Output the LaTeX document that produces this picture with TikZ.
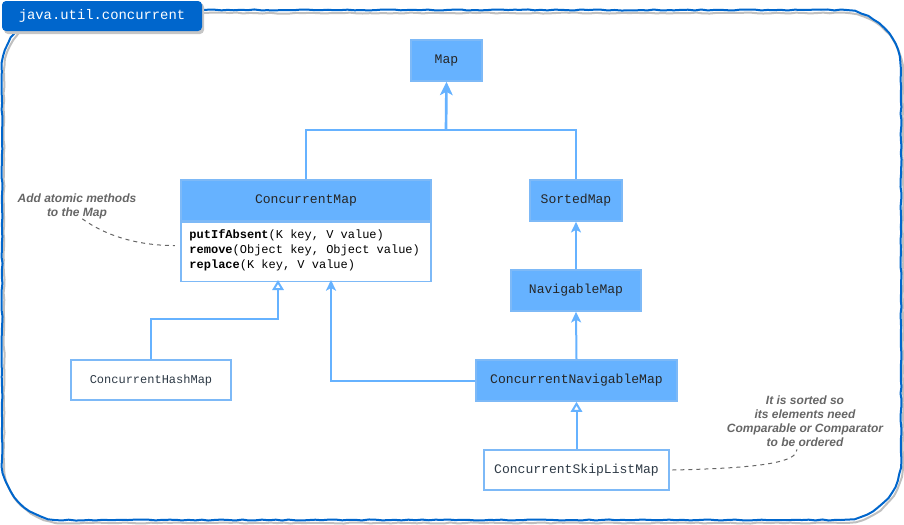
\documentclass[tikz,border=0pt]{standalone}
\usepackage{fontspec}
\setmainfont{Liberation Sans}
\setmonofont{Liberation Mono}
\usepackage{tikz}
\usetikzlibrary{
  arrows.meta,
  decorations.pathmorphing,
  calc,
  positioning
}
\definecolor{pkgblue}{HTML}{0066CC}
\definecolor{ifblue}{HTML}{66B2FF}
\definecolor{lineblue}{HTML}{7DB9F7}
\definecolor{notegray}{HTML}{666666}
\definecolor{clstext}{HTML}{2E3A46}
\tikzset{
  sk/.style={
    line width=1.5pt,
    decoration={random steps, segment length=5pt, amplitude=0.4pt}
  },
  tab/.style={fill=pkgblue, rounded corners=3pt, inner sep=0pt, text=white,
    font=\ttfamily\fontsize{10.4}{12}\selectfont},
  iface/.style={draw=lineblue, fill=ifblue, line width=1.2pt, inner sep=0pt,
    text=black!85, font=\ttfamily\fontsize{9.8}{11}\selectfont},
  cls/.style={iface, fill=white, text=clstext},
  methods/.style={inner sep=0pt, align=left, text=black,
    font=\ttfamily\fontsize{9}{11.25}\selectfont},
  link/.style={draw=ifblue, line width=1.5pt},
  ext/.style={link, -{Stealth[length=8pt, width=7.5pt, inset=2pt]}},
  impl/.style={link, -{Triangle[open, fill=white, length=7.5pt, width=8.5pt]}},
  note/.style={align=center, inner sep=0pt, text=notegray,
    font=\bfseries\itshape\fontsize{9}{10.5}\selectfont},
  noteline/.style={draw=notegray, dashed, line width=0.75pt},
}

\begin{document}
\begin{tikzpicture}[x=0.75pt, y=-0.75pt]
\useasboundingbox (0,0) rectangle (904,525);

% --- package frame and its tab ---
\draw[sk, draw=gray!50] decorate {{[rounded corners=45pt] (4,13) rectangle (903,523)}};
\draw[sk, draw=pkgblue] decorate {{[rounded corners=45pt] (2,10) rectangle (901,520)}};
\fill[gray!45, rounded corners=3pt] (4,3) rectangle (204,34);
\node[tab, minimum width=150pt, minimum height=22.5pt] (pkg) at (102,16) {java.util.concurrent};

% --- interfaces and classes ---
\node[iface, minimum width=53.25pt, minimum height=30.75pt] (map) at (446.5,60.5) {Map};
\node[iface, minimum width=187.5pt, minimum height=30.75pt] (cmhead) at (306,200.5) {ConcurrentMap};
\node[cls, minimum width=187.5pt, minimum height=44.25pt, below=0pt of cmhead] (cmbody) {};
\node[methods, right=6.75pt of cmbody.west, yshift=1.5pt] (cmops)
  {\textbf{putIfAbsent}(K key, V value)\\
   \textbf{remove}(Object key, Object value)\\
   \textbf{replace}(K key, V value)};
\node[iface, minimum width=69pt, minimum height=30.75pt] (sorted) at (576,200.5) {SortedMap};
\node[iface, minimum width=97.5pt, minimum height=30.75pt] (navig) at (576,290.5) {NavigableMap};
\node[iface, minimum width=150.75pt, minimum height=30.75pt] (cnav) at (576.5,380.5) {ConcurrentNavigableMap};
\node[cls, minimum width=120pt, minimum height=30pt, font=\ttfamily\fontsize{9}{11}\selectfont] (chash) at (151,380) {ConcurrentHashMap};
\node[cls, minimum width=138.75pt, minimum height=30pt] (cskip) at (576.5,470) {ConcurrentSkipListMap};

% --- inheritance ---
\coordinate (join) at (446,130);
\coordinate (cmA) at (278,280);
\coordinate (cmB) at (331,280);
\draw[link] (cmhead.north) |- (join) -| (sorted.north);
\draw[link, line width=2pt, -{Stealth[length=10pt, width=9.5pt, inset=2.5pt]}] (join) -- (map.south);
\draw[impl] (chash.north) -- ++(0,-40) -| (cmA);
\draw[ext] (cnav.west) -| (cmB);
\draw[ext] (navig.north) -- (sorted.south);
\draw[ext] (cnav.north) -- (navig.south);
\draw[impl] (cskip.north) -- (cnav.south);

% --- notes ---
\node[note] (atomic) at (77,206) {Add atomic methods\\to the Map};
\draw[noteline] ([xshift=4pt]atomic.south) .. controls +(25,18) and +(-35,0) .. ([xshift=-4pt, yshift=4.9pt]cmbody.west);
\node[note] (sortnote) at (805,421) {It is sorted so\\its elements need\\Comparable or Comparator\\to be ordered};
\draw[noteline] ([xshift=2pt]cskip.east) .. controls +(95,-2) and +(0,12) .. ([xshift=-6pt, yshift=-2pt]sortnote.south);

\end{tikzpicture}
\end{document}
